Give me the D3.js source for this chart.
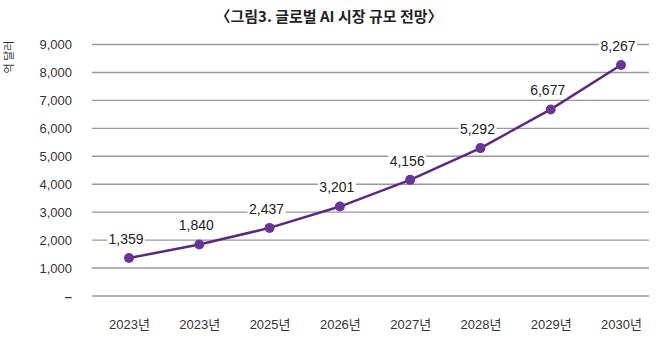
<!DOCTYPE html>
<html><head><meta charset="utf-8">
<script src="https://cdn.jsdelivr.net/npm/d3@7"></script>
<style>body{margin:0;background:#fff}svg{display:block}</style>
</head><body>
<script>
const categories = ["2023년","2023년","2025년","2026년","2027년","2028년","2029년","2030년"];
const values = [1359,1840,2437,3201,4156,5292,6677,8267];
const yTicks = [0,1000,2000,3000,4000,5000,6000,7000,8000,9000];
const title = "〈그림3. 글로벌 AI 시장 규모 전망〉";
const unitLabel = "억 달러";

const W=658,H=337;
const svg=d3.select("body").append("svg").attr("width",W).attr("height",H);
const font="'Noto Sans CJK KR','Noto Sans',sans-serif";
const x=d3.scalePoint().domain(d3.range(categories.length)).range([129,621]);
const y=d3.scaleLinear().domain([0,9000]).range([296,44.5]);

svg.append("text").attr("x",329).attr("y",22).attr("text-anchor","middle")
  .attr("font-family",font).attr("font-weight","bold").attr("font-size",15)
  .attr("fill","#222").text(title);

svg.append("text").attr("transform","translate(13,57) rotate(-90)").attr("text-anchor","middle")
  .attr("font-family",font).attr("font-size",11).attr("fill","#333").text(unitLabel);

const grid=svg.append("g");
grid.selectAll("line").data(yTicks).join("line")
  .attr("x1",92).attr("x2",649).attr("y1",d=>y(d)).attr("y2",d=>y(d))
  .attr("stroke","#9a9a9a").attr("stroke-width",1.4);

const yAxis=d3.axisLeft(y).tickValues(yTicks).tickSize(0).tickPadding(0)
  .tickFormat(d=>d===0?"–":d3.format(",")(d));
const ga=svg.append("g").attr("transform","translate(72,0)").call(yAxis);
ga.select(".domain").remove();
ga.selectAll("text").attr("font-family","'Liberation Sans',Arial,sans-serif").attr("font-size",13).attr("fill","#333")
  .style("font-weight",d=>d===0?"bold":"normal");

const xAxis=d3.axisBottom(x).tickSize(0).tickPadding(0).tickFormat(i=>categories[i]);
const gx=svg.append("g").attr("transform","translate(0,320)").call(xAxis);
gx.select(".domain").remove();
gx.selectAll("text").attr("font-family","'Liberation Sans','Noto Sans CJK KR',sans-serif").attr("font-size",13).attr("fill","#333");

const line=d3.line().x((d,i)=>x(i)).y(d=>y(d));
svg.append("path").datum(values).attr("d",line).attr("fill","none")
  .attr("stroke","#5a2a82").attr("stroke-width",2.5);
svg.selectAll("circle.pt").data(values).join("circle").attr("class","pt")
  .attr("cx",(d,i)=>x(i)).attr("cy",d=>y(d)).attr("r",5).attr("fill","#6a3596");

const lbl=svg.append("g").selectAll("g").data(values).join("g")
  .attr("transform",(d,i)=>`translate(${x(i)-3},${y(d)-19})`);
lbl.append("rect").attr("x",-19).attr("y",-8).attr("width",38).attr("height",16).attr("fill","#fff");
lbl.append("text").attr("text-anchor","middle").attr("dy","0.35em")
  .attr("font-family","'Liberation Sans',Arial,sans-serif").attr("font-size",14).attr("fill","#222")
  .text(d=>d3.format(",")(d));
</script>
</body></html>
